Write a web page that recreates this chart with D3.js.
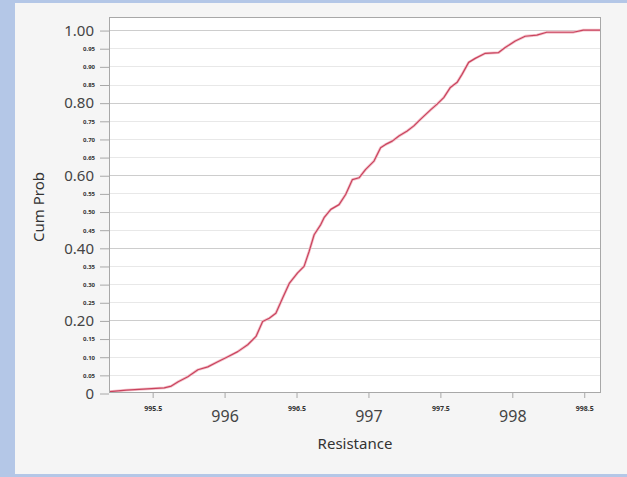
<!DOCTYPE html>
<html>
<head>
<meta charset="utf-8">
<script src="https://cdn.jsdelivr.net/npm/d3@7/dist/d3.min.js"></script>
<style>
  body { margin: 0; background: #b4c7e7; }
  svg { display: block; }
  text { font-family: "Segoe UI", "Noto Sans", "Open Sans", sans-serif; }
</style>
</head>
<body>
<svg id="chart" width="627" height="477"></svg>
<script>
// Empirical cumulative distribution of resistance readings
const resistance = [
  995.205, 995.321, 995.584, 995.633, 995.681, 995.748, 995.818, 995.887,
  995.956, 996.026, 996.095, 996.164, 996.222, 996.268, 996.314, 996.360,
  996.407, 996.453, 996.511, 996.556, 996.591, 996.626, 996.672, 996.695,
  996.742, 996.799, 996.845, 996.892, 996.938, 996.984, 997.042, 997.088,
  997.123, 997.169, 997.215, 997.273, 997.319, 997.365, 997.435, 997.481,
  997.527, 997.573, 997.620, 997.654, 997.700, 997.746, 997.816, 997.908,
  997.954, 998.024, 998.093, 998.174, 998.243, 998.428, 998.497, 998.613
];
const cumProb = [
  0.004, 0.008, 0.014, 0.019, 0.031, 0.045, 0.064, 0.072,
  0.086, 0.100, 0.114, 0.133, 0.156, 0.197, 0.206, 0.220,
  0.262, 0.302, 0.331, 0.349, 0.390, 0.436, 0.464, 0.483,
  0.506, 0.519, 0.547, 0.588, 0.593, 0.616, 0.639, 0.676,
  0.685, 0.694, 0.708, 0.722, 0.736, 0.754, 0.780, 0.796,
  0.814, 0.842, 0.856, 0.878, 0.911, 0.922, 0.936, 0.938,
  0.952, 0.970, 0.983, 0.986, 0.994, 0.994, 1.000, 1.000
];

const yMajorTicks = [0, 0.2, 0.4, 0.6, 0.8, 1.0];
const yMajorLabels = ["0", "0.20", "0.40", "0.60", "0.80", "1.00"];
const yMinorTicks = [0.05, 0.10, 0.15, 0.25, 0.30, 0.35, 0.45, 0.50, 0.55, 0.65, 0.70, 0.75, 0.85, 0.90, 0.95];
const yMinorLabels = ["0.05", "0.10", "0.15", "0.25", "0.30", "0.35", "0.45", "0.50", "0.55", "0.65", "0.70", "0.75", "0.85", "0.90", "0.95"];
const xMajorTicks = [996, 997, 998];
const xMajorLabels = ["996", "997", "998"];
const xMinorTicks = [995.5, 996.5, 997.5, 998.5];
const xMinorLabels = ["995.5", "996.5", "997.5", "998.5"];

const svg = d3.select("#chart");
const plot = { left: 109, right: 601, top: 17, bottom: 393 };

// outer backdrop and report panel
svg.append("rect").attr("width", 627).attr("height", 477).attr("fill", "#b4c7e7");
svg.append("rect").attr("x", 15).attr("y", 3).attr("width", 612).attr("height", 471).attr("fill", "#f5f5f5");

const x = d3.scaleLinear().domain([995.2, 998.62]).range([plot.left, plot.right]);
const y = d3.scaleLinear().domain([0, 1.036]).range([plot.bottom, plot.top]);

svg.append("rect")
  .attr("x", plot.left).attr("y", plot.top)
  .attr("width", plot.right - plot.left).attr("height", plot.bottom - plot.top)
  .attr("fill", "#ffffff");

// horizontal grid
svg.append("g").selectAll("line").data(yMinorTicks).join("line")
  .attr("x1", plot.left).attr("x2", plot.right)
  .attr("y1", d => Math.round(y(d)) + 0.5).attr("y2", d => Math.round(y(d)) + 0.5)
  .attr("stroke", "#e8e8e8").attr("stroke-width", 1);
svg.append("g").selectAll("line").data(yMajorTicks.filter(d => d > 0)).join("line")
  .attr("x1", plot.left).attr("x2", plot.right)
  .attr("y1", d => Math.round(y(d)) + 0.5).attr("y2", d => Math.round(y(d)) + 0.5)
  .attr("stroke", "#cdcdcd").attr("stroke-width", 1);

// CDF curve: soft halo under a thin core
const pts = resistance.map((r, i) => [r, cumProb[i]]);
const line = d3.line().x(d => x(d[0])).y(d => y(d[1]));
svg.append("path").datum(pts)
  .attr("d", line)
  .attr("fill", "none")
  .attr("stroke", "#f3c2cb").attr("stroke-width", 2.8)
  .attr("stroke-linejoin", "round");
svg.append("path").datum(pts)
  .attr("d", line)
  .attr("fill", "none")
  .attr("stroke", "#c9435d").attr("stroke-width", 1.2)
  .attr("stroke-linejoin", "round");

// plot frame
svg.append("rect")
  .attr("x", plot.left + 0.5).attr("y", plot.top + 0.5)
  .attr("width", plot.right - plot.left - 1).attr("height", plot.bottom - plot.top - 1)
  .attr("fill", "none").attr("stroke", "#a8a8a8");

function styleAxis(g, size, color, weight) {
  g.select(".domain").remove();
  g.selectAll(".tick line").attr("stroke", "#a8a8a8");
  g.selectAll(".tick text")
    .attr("font-size", size)
    .attr("fill", color)
    .attr("font-weight", weight)
    .attr("font-family", "'Segoe UI', 'Noto Sans', 'Open Sans', sans-serif");
}

// y axis
svg.append("g")
  .attr("transform", `translate(${plot.left},0.5)`)
  .call(d3.axisLeft(y).tickValues(yMajorTicks).tickFormat((d, i) => yMajorLabels[i]).tickSize(9).tickPadding(6))
  .call(g => styleAxis(g, "15px", "#444444", "normal"));
svg.append("g")
  .attr("transform", `translate(${plot.left},0.5)`)
  .call(d3.axisLeft(y).tickValues(yMinorTicks).tickFormat((d, i) => yMinorLabels[i]).tickSize(9).tickPadding(5))
  .call(g => styleAxis(g, "6px", "#333333", "bold"));

// x axis
svg.append("g")
  .attr("transform", `translate(0.5,${plot.bottom})`)
  .call(d3.axisBottom(x).tickValues(xMajorTicks).tickFormat((d, i) => xMajorLabels[i]).tickSize(5).tickPadding(13))
  .call(g => styleAxis(g, "16px", "#444444", "normal"));
svg.append("g")
  .attr("transform", `translate(0.5,${plot.bottom})`)
  .call(d3.axisBottom(x).tickValues(xMinorTicks).tickFormat((d, i) => xMinorLabels[i]).tickSize(5).tickPadding(8))
  .call(g => styleAxis(g, "7px", "#333333", "bold"));

// axis titles
svg.append("text")
  .attr("x", (plot.left + plot.right) / 2)
  .attr("y", 449)
  .attr("text-anchor", "middle")
  .attr("font-size", "15px")
  .attr("fill", "#333333")
  .text("Resistance");
svg.append("text")
  .attr("transform", `translate(44,${(plot.top + plot.bottom) / 2 + 2}) rotate(-90)`)
  .attr("text-anchor", "middle")
  .attr("font-size", "15px")
  .attr("fill", "#333333")
  .text("Cum Prob");
</script>
</body>
</html>
